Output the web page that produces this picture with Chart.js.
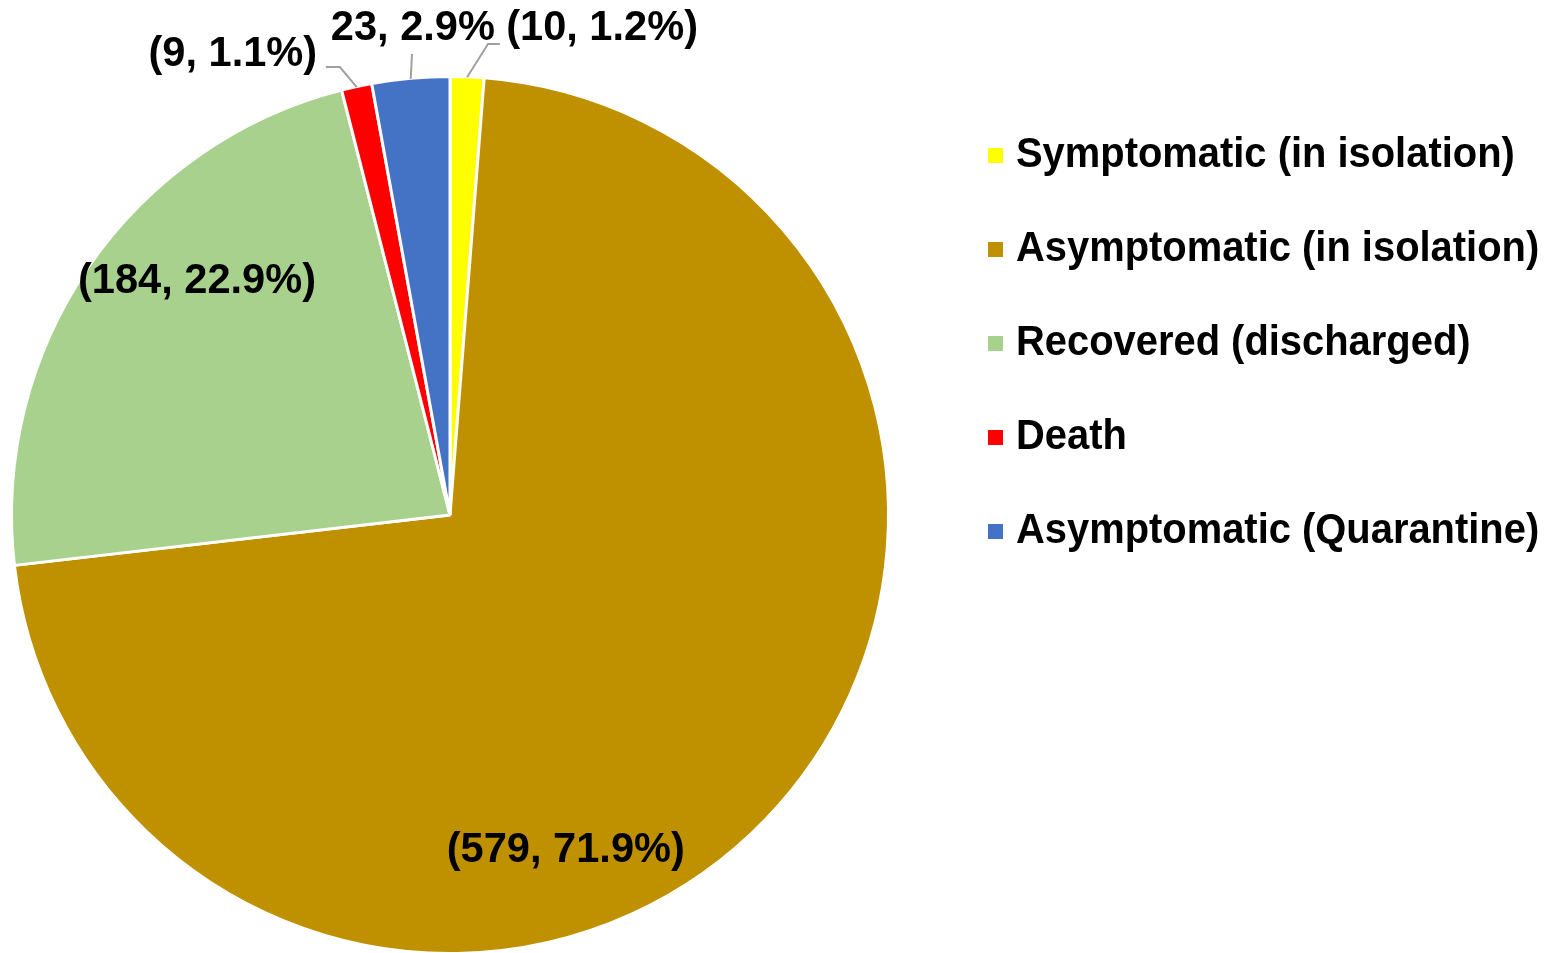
<!DOCTYPE html>
<html>
<head>
<meta charset="utf-8">
<script src="https://cdn.jsdelivr.net/npm/chart.js@4.4.1/dist/chart.umd.min.js"></script>
<style>
  html, body { margin: 0; padding: 0; background: #fff; overflow: hidden; }
  canvas { display: block; }
</style>
</head>
<body>
<canvas id="pie" width="1551" height="1000"></canvas>
<script>
// data
var categories = ['Symptomatic (in isolation)', 'Asymptomatic (in isolation)', 'Recovered (discharged)', 'Death', 'Asymptomatic (Quarantine)'];
var counts = [10, 579, 184, 9, 23];
var colors = ['#FFFF00', '#BF9000', '#A9D18E', '#FF0000', '#4472C4'];
var withParens = [true, true, true, true, false];

// where each value label sits, as fractions of the radius from the centre
var labelPlace = [[0.348, -1.114], [0.265, 0.767], [-0.579, -0.535], [-0.497, -1.053], [-0.085, -1.114]];
// leader lines (start points, same units); they end on the slice edge
var leaderPts = [
    [[0.114, -1.078], [0.087, -1.078]],
    null,
    null,
    [[-0.284, -1.025], [-0.252, -1.025]],
    [[-0.087, -1.055]]
];

var total = counts.reduce(function (a, b) { return a + b; }, 0);

// draws text a bit narrower than the font's natural width (the source is squeezed)
function squeezed(ctx, txt, x, y, sx) {
    ctx.save();
    ctx.translate(x, y);
    ctx.scale(sx, 1);
    ctx.fillText(txt, 0, 0);
    ctx.restore();
}

var labelPlugin = {
    id: 'pieLabels',
    afterDatasetsDraw: function (chart) {
        var ctx = chart.ctx;
        var arcs = chart.getDatasetMeta(0).data;
        var cx = arcs[0].x, cy = arcs[0].y, r = arcs[0].outerRadius - 1.5;

        ctx.save();
        // leaders
        ctx.strokeStyle = '#A0A0A0';
        ctx.lineWidth = 2;
        arcs.forEach(function (arc, i) {
            if (!leaderPts[i]) return;
            var mid = (arc.startAngle + arc.endAngle) / 2;
            ctx.beginPath();
            leaderPts[i].forEach(function (p, k) {
                var x = cx + p[0] * r, y = cy + p[1] * r;
                if (k === 0) ctx.moveTo(x, y); else ctx.lineTo(x, y);
            });
            ctx.lineTo(cx + Math.cos(mid) * (r + 1), cy + Math.sin(mid) * (r + 1));
            ctx.stroke();
        });

        // value labels
        ctx.fillStyle = '#000';
        ctx.font = 'bold 42px "Liberation Sans", Arial, sans-serif';
        ctx.textAlign = 'center';
        ctx.textBaseline = 'middle';
        counts.forEach(function (v, i) {
            var pct = (v / total * 100).toFixed(1) + '%';
            var txt = v + ', ' + pct;
            if (withParens[i]) txt = '(' + txt + ')';
            squeezed(ctx, txt, cx + labelPlace[i][0] * r, cy + labelPlace[i][1] * r, 0.99);
        });

        // legend
        ctx.font = 'bold 42px "Liberation Sans", Arial, sans-serif';
        ctx.textAlign = 'left';
        categories.forEach(function (name, i) {
            var y = 155 + i * 94;
            ctx.fillStyle = colors[i];
            ctx.fillRect(988, y - 7, 15, 15);
            ctx.fillStyle = '#000';
            squeezed(ctx, name, 1016, y, 0.95);
        });
        ctx.restore();
    }
};

new Chart(document.getElementById('pie').getContext('2d'), {
    type: 'pie',
    data: {
        labels: categories,
        datasets: [{
            data: counts,
            backgroundColor: colors,
            borderColor: '#fff',
            borderWidth: 3,
            hoverBorderWidth: 3
        }]
    },
    options: {
        responsive: false,
        animation: false,
        radius: 438.5,
        layout: { padding: { left: 10, top: 75, right: 661, bottom: 45 } },
        plugins: {
            legend: { display: false },
            tooltip: { enabled: false }
        }
    },
    plugins: [labelPlugin]
});
</script>
</body>
</html>
